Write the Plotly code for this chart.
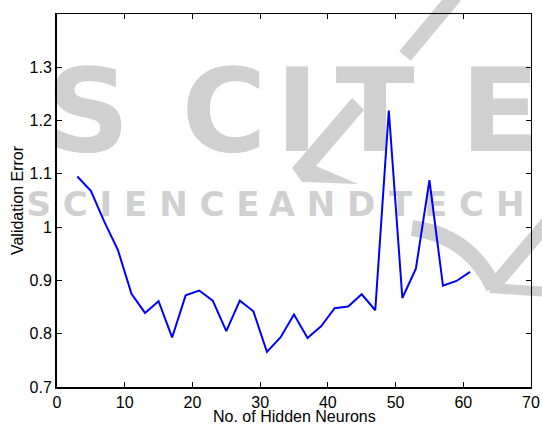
import plotly.graph_objects as go

neurons = [3, 5, 7, 9, 11, 13, 15, 17, 19, 21, 23, 25, 27, 29, 31, 33, 35, 37, 39, 41,
           43, 45, 47, 49, 51, 53, 55, 57, 59, 61]
val_error = [1.095, 1.068, 1.010, 0.957, 0.875, 0.839, 0.861, 0.793, 0.872, 0.881,
             0.862, 0.805, 0.862, 0.842, 0.766, 0.793, 0.836, 0.792, 0.814, 0.848,
             0.851, 0.874, 0.844, 1.219, 0.867, 0.922, 1.088, 0.890, 0.899, 0.916]

x_ticks = [0, 10, 20, 30, 40, 50, 60, 70]
y_ticks = [0.7, 0.8, 0.9, 1.0, 1.1, 1.2, 1.3]
y_tick_text = ["0.7", "0.8", "0.9", "1", "1.1", "1.2", "1.3"]
x_title = "No. of Hidden Neurons"
y_title = "Validation Error"

# plot area in pixels
L, R, T, B = 57, 531, 14, 387
W, H = 542, 424

def px(xp):
    return (xp - L) / (R - L)

def py(yp):
    return (B - yp) / (B - T)

fig = go.Figure()
fig.add_trace(go.Scatter(x=neurons, y=val_error, mode="lines",
                         line=dict(color="#0000ff", width=2), showlegend=False))
# invisible trace for top/right mirror axes
fig.add_trace(go.Scatter(x=[None], y=[None], xaxis="x2", yaxis="y2", showlegend=False))

wm = "#d0d0d0"
shapes = []
def wm_text(text, cx, cy, size, w=200, h=100, pos="middle center"):
    shapes.append(dict(type="rect", xref="paper", yref="paper",
                       x0=px(cx - w / 2), x1=px(cx + w / 2),
                       y0=py(cy + h / 2), y1=py(cy - h / 2),
                       line=dict(width=0), fillcolor="rgba(0,0,0,0)", layer="below",
                       label=dict(text=text, textposition=pos,
                                  font=dict(family="DejaVu Sans", size=size, color=wm,
                                            weight="bold"))))

def wm_path(cmds, width=0, fill=None):
    parts = []
    for c in cmds:
        if isinstance(c, str):
            parts.append(c)
        else:
            parts.append(f"{px(c[0]):.4f},{py(c[1]):.4f}")
    shapes.append(dict(type="path", xref="paper", yref="paper", path=" ".join(parts),
                       line=dict(width=width, color=wm), layer="below",
                       fillcolor=fill if fill else "rgba(0,0,0,0)"))

for letter, cx in [("S", 88), ("C", 224), ("I", 297), ("T", 375), ("E", 500)]:
    wm_text(letter, cx, 102, 116)
wm_text("S C I E N C E", 143, 202, 34, w=300, h=40)
wm_text("A N D", 322, 202, 34, w=150, h=40)
wm_text("T E C H", 383 + 100, 202, 34, w=200, h=40, pos="middle left")
# accent slash
wm_path(["M", (455, -4), "L", (405, 56)], width=15)
# chevron in the T
wm_path(["M", (352, 98), "L", (364, 110), "L", (316, 166), "L", (358, 184),
         "L", (302, 182), "L", (292, 168), "Z"], fill=wm)
# swoosh at the right
wm_path(["M", (412, 228), "Q", (470, 236), (494, 288)], width=16)
wm_path(["M", (492, 288), "L", (548, 222)], width=14)
wm_path(["M", (490, 288), "L", (548, 292)], width=10)

tickfont = dict(family="Liberation Sans, Arial", size=16, color="#000000")
fig.update_layout(
    width=W, height=H,
    margin=dict(l=L, r=W - R, t=T, b=H - B, pad=0, autoexpand=False),
    paper_bgcolor="white", plot_bgcolor="rgba(0,0,0,0)",
    shapes=shapes,
    annotations=[dict(text=x_title, xref="paper", yref="paper", x=0.5, y=py(416),
                      xanchor="center", yanchor="middle", showarrow=False,
                      font=tickfont)],
    xaxis=dict(range=[0, 70], tickvals=x_ticks, ticks="inside", ticklen=5,
               tickcolor="black", tickwidth=1, showline=True, linecolor="black",
               linewidth=2, showgrid=False, zeroline=False, tickfont=tickfont,
               automargin=False),
    yaxis=dict(range=[0.7, 1.4], tickvals=y_ticks, ticktext=y_tick_text, ticks="inside",
               ticklen=5, tickcolor="black", tickwidth=1, showline=True,
               linecolor="black", linewidth=2, showgrid=False, zeroline=False,
               tickfont=tickfont, automargin=False,
               title=dict(text=y_title, font=tickfont, standoff=2)),
    xaxis2=dict(range=[0, 70], tickvals=x_ticks, overlaying="x", side="top",
                ticks="inside", ticklen=5, tickcolor="black", showline=True,
                linecolor="black", linewidth=1, showticklabels=False, showgrid=False,
                zeroline=False, automargin=False),
    yaxis2=dict(range=[0.7, 1.4], tickvals=y_ticks, overlaying="y", side="right",
                ticks="inside", ticklen=5, tickcolor="black", showline=True,
                linecolor="black", linewidth=1, showticklabels=False, showgrid=False,
                zeroline=False, automargin=False),
)
fig.write_html("out.html", config={"displayModeBar": False},
               post_script="document.body.style.margin='0';")
